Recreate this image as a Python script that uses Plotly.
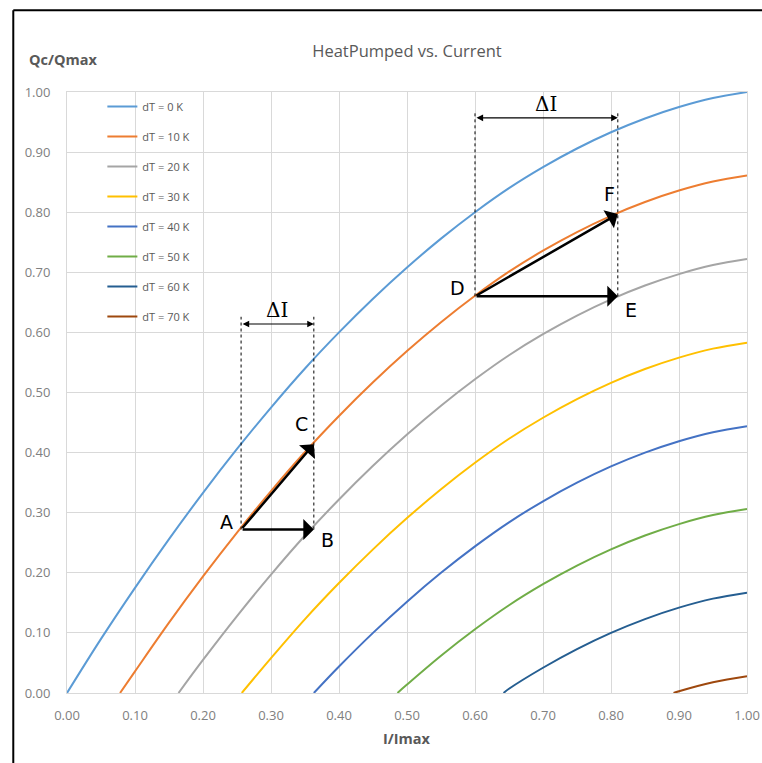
import plotly.graph_objects as go

# ---------------- data ----------------
series_names = ["dT = 0 K", "dT = 10 K", "dT = 20 K", "dT = 30 K",
                "dT = 40 K", "dT = 50 K", "dT = 60 K", "dT = 70 K"]
series_colors = ["#5B9BD5", "#ED7D31", "#A5A5A5", "#FFC000",
                 "#4472C4", "#70AD47", "#255E91", "#9E480E"]

I_grid = [0.00, 0.05, 0.10, 0.15, 0.20, 0.25, 0.30, 0.35, 0.40, 0.45, 0.50,
          0.55, 0.60, 0.65, 0.70, 0.75, 0.80, 0.85, 0.90, 0.95, 1.00]
# I/Imax where each curve leaves Qc/Qmax = 0
start_I = [0.0, 0.078, 0.164, 0.257, 0.363, 0.486, 0.642, 0.892]

q_dT0 = [0.090, 0.175, 0.256, 0.333, 0.406, 0.475, 0.540, 0.600, 0.656, 0.708,
         0.756, 0.800, 0.840, 0.875, 0.906, 0.933, 0.956, 0.975, 0.990, 1.000]
q_dT10 = [0.036, 0.117, 0.194, 0.267, 0.336, 0.401, 0.461, 0.517, 0.569, 0.617,
          0.661, 0.701, 0.736, 0.767, 0.794, 0.817, 0.836, 0.851, 0.861]
q_dT20 = [0.055, 0.128, 0.197, 0.262, 0.322, 0.378, 0.430, 0.478, 0.522, 0.562,
          0.597, 0.628, 0.655, 0.678, 0.697, 0.712, 0.722]
q_dT30 = [0.058, 0.123, 0.183, 0.239, 0.291, 0.339, 0.383, 0.423, 0.458, 0.489,
          0.516, 0.539, 0.558, 0.573, 0.583]
q_dT40 = [0.044, 0.100, 0.152, 0.200, 0.244, 0.284, 0.319, 0.350, 0.377, 0.400,
          0.419, 0.434, 0.444]
q_dT50 = [0.014, 0.062, 0.106, 0.146, 0.181, 0.212, 0.239, 0.262, 0.281, 0.296, 0.306]
q_dT60 = [0.007, 0.042, 0.073, 0.100, 0.123, 0.142, 0.157, 0.167]
q_dT70 = [0.003, 0.018, 0.028]
series_values = [q_dT0, q_dT10, q_dT20, q_dT30, q_dT40, q_dT50, q_dT60, q_dT70]

x_ticks = [0.0, 0.1, 0.2, 0.3, 0.4, 0.5, 0.6, 0.7, 0.8, 0.9, 1.0]
y_ticks = [0.0, 0.1, 0.2, 0.3, 0.4, 0.5, 0.6, 0.7, 0.8, 0.9, 1.0]

# operating points marked on the chart
pt_names = ["A", "B", "C", "D", "E", "F"]
pt_I = [0.256, 0.363, 0.363, 0.600, 0.810, 0.810]
pt_Q = [0.272, 0.272, 0.414, 0.660, 0.660, 0.797]
arrows = [("A", "B"), ("A", "C"), ("D", "E"), ("D", "F")]
# label offsets in pixels (dx, dy) around each point
label_offsets = {"A": (-15, -8), "B": (14, 10), "C": (-12, -20),
                 "D": (-18, -8), "E": (13, 14), "F": (-8, -20)}
delta_I_levels = [0.614, 0.957]     # Qc/Qmax height of the ΔI span arrows
delta_I_pairs = [("A", "B"), ("D", "E")]

# ---------------- figure ----------------
fig = go.Figure()
for name, color, x0, vals in zip(series_names, series_colors, start_I, series_values):
    xs = [x0] + [g for g in I_grid if g > x0]
    ys = [0.0] + vals
    fig.add_trace(go.Scatter(x=xs, y=ys, mode="lines", name=name,
                             line=dict(color=color, width=2, shape="spline"),
                             legendgroup=name))

P = {n: (x, y) for n, x, y in zip(pt_names, pt_I, pt_Q)}

annotations = []
shapes = []
for a, b in arrows:
    annotations.append(dict(x=P[b][0], y=P[b][1], ax=P[a][0], ay=P[a][1],
                            xref="x", yref="y", axref="x", ayref="y",
                            showarrow=True, arrowhead=1, arrowsize=1.4,
                            arrowwidth=2.5, arrowcolor="black", text=""))
for n in pt_names:
    dx, dy = label_offsets[n]
    annotations.append(dict(x=P[n][0], y=P[n][1], xref="x", yref="y", text=n,
                            showarrow=False, xshift=dx, yshift=-dy,
                            font=dict(family="DejaVu Sans", size=19, color="black")))
for (a, b), lvl in zip(delta_I_pairs, delta_I_levels):
    for n in (a, b):
        shapes.append(dict(type="line", xref="x", yref="y", x0=P[n][0], x1=P[n][0],
                           y0=P[n][1], y1=lvl + 0.012,
                           line=dict(color="black", width=1, dash="dot")))
    annotations.append(dict(x=P[b][0], y=lvl, ax=P[a][0], ay=lvl,
                            xref="x", yref="y", axref="x", ayref="y",
                            showarrow=True, arrowhead=2, arrowside="end+start",
                            arrowsize=1.2, arrowwidth=1.1, arrowcolor="black", text=""))
    annotations.append(dict(x=(P[a][0] + P[b][0]) / 2, y=lvl, xref="x", yref="y",
                            text="ΔI", showarrow=False, yanchor="bottom", yshift=0,
                            font=dict(family="DejaVu Serif, serif", size=20, color="black")))

# axis titles / chart title
annotations.append(dict(x=-0.059, y=1.035, xref="paper", yref="paper", text="<b>Qc/Qmax</b>",
                        showarrow=False, xanchor="left", yanchor="bottom",
                        font=dict(family="Open Sans", size=14.5, color="#595959")))
annotations.append(dict(x=0.5, y=-0.075, xref="paper", yref="paper", text="<b>I/Imax</b>",
                        showarrow=False, xanchor="center", yanchor="middle",
                        font=dict(family="Open Sans", size=14.5, color="#595959")))

# outer frame: only its left and top sides are inside the picture
shapes.append(dict(type="line", xref="paper", yref="paper", x0=-0.079, x1=-0.079,
                   y0=-0.4, y1=1.136, line=dict(color="black", width=2), layer="above"))
shapes.append(dict(type="line", xref="paper", yref="paper", x0=-0.079, x1=1.3,
                   y0=1.136, y1=1.136, line=dict(color="black", width=2), layer="above"))

fig.update_layout(
    width=762, height=763,
    margin=dict(l=67, r=15, t=92, b=70, autoexpand=False),
    paper_bgcolor="white", plot_bgcolor="white",
    title=dict(text="HeatPumped vs. Current", x=0.5, xref="paper", y=0.933, yanchor="middle",
               font=dict(family="Open Sans", size=16.5, color="#595959")),
    font=dict(family="Open Sans", color="#7F7F7F"),
    xaxis=dict(range=[0, 1], tickvals=x_ticks, tickformat=".2f", showgrid=True,
               gridcolor="#D9D9D9", gridwidth=1, zeroline=False, showline=True,
               linecolor="#D9D9D9", mirror=True, ticks="", ticklabelstandoff=10,
               automargin=False, tickfont=dict(size=13, color="#808080")),
    yaxis=dict(range=[0, 1], tickvals=y_ticks, tickformat=".2f", showgrid=True,
               gridcolor="#D9D9D9", gridwidth=1, zeroline=False, showline=True,
               linecolor="#D9D9D9", mirror=True, ticks="", ticklabelstandoff=13,
               automargin=False, tickfont=dict(size=13, color="#808080")),
    legend=dict(x=0.052, y=1.0, xanchor="left", yanchor="top", bgcolor="rgba(0,0,0,0)",
                font=dict(family="Open Sans", size=11, color="#595959"),
                itemwidth=30, tracegroupgap=11),
    annotations=annotations,
    shapes=shapes,
)

fig.write_html("out.html", config={"displayModeBar": False},
               post_script="document.body.style.margin='0';document.body.style.overflow='hidden';")
